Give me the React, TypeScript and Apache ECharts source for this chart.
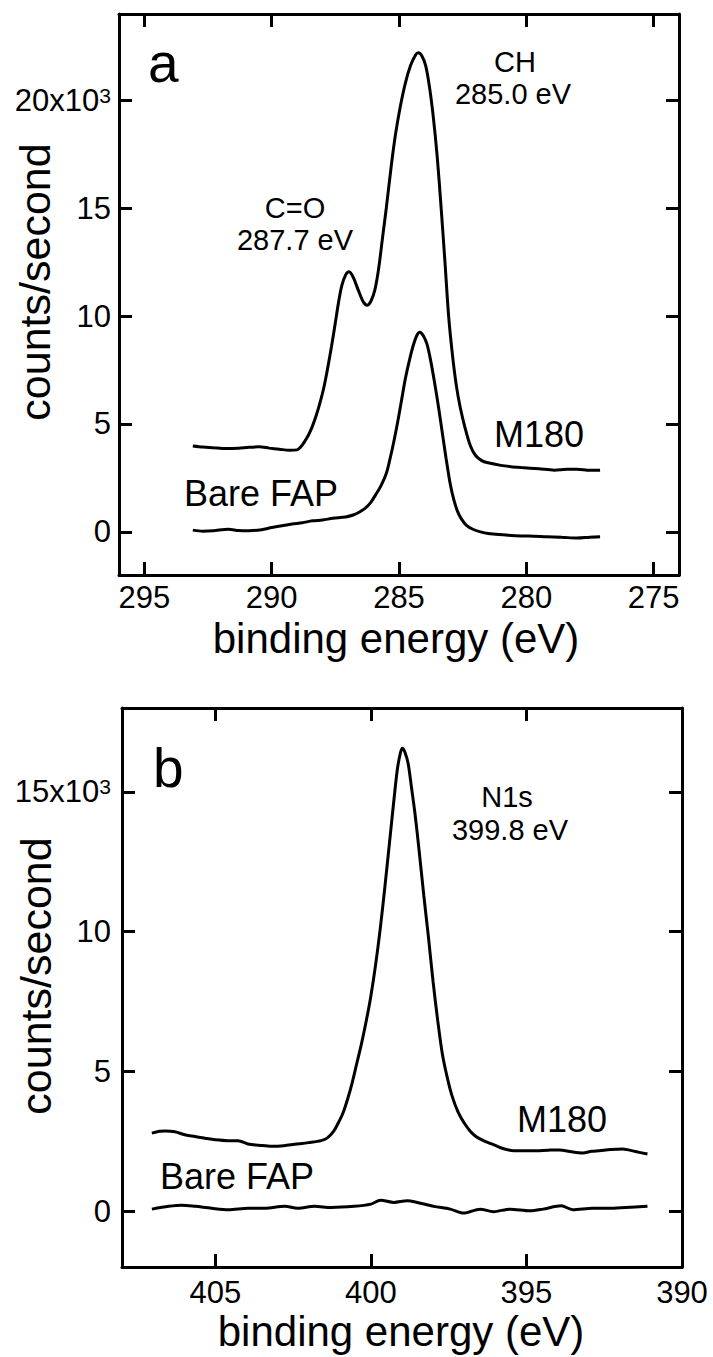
import React, { useEffect, useRef } from "react";
import * as echarts from "echarts";

// ---------- data ----------
// Panel a: C1s region, binding energy (eV) vs counts/second (x10^3)
const aM180: [number, number][] = [
  [293.1, 3.98], [292.7, 3.93], [292.3, 3.9], [291.8, 3.86], [291.3, 3.88], [290.9, 3.92],
  [290.5, 3.94], [290.1, 3.88], [289.7, 3.83], [289.3, 3.78], [289.0, 3.8], [288.85, 3.95],
  [288.7, 4.2], [288.55, 4.5], [288.4, 4.9], [288.25, 5.4], [288.1, 6.0], [287.95, 6.7],
  [287.8, 7.6], [287.65, 8.6], [287.5, 9.7], [287.38, 10.6], [287.25, 11.4], [287.1, 11.9],
  [286.96, 12.05], [286.8, 11.8], [286.6, 11.2], [286.4, 10.65], [286.25, 10.5], [286.1, 10.7],
  [285.95, 11.2], [285.8, 12.2], [285.65, 13.6], [285.5, 15.0], [285.3, 17.0], [285.14, 18.4],
  [284.95, 19.7], [284.75, 20.8], [284.55, 21.6], [284.35, 22.1], [284.24, 22.2], [284.1, 22.05],
  [283.95, 21.6], [283.8, 20.6], [283.65, 19.2], [283.5, 17.4], [283.35, 15.1], [283.2, 12.6],
  [283.05, 10.0], [282.9, 8.2], [282.75, 6.8], [282.6, 5.8], [282.4, 4.8], [282.2, 4.0],
  [282.0, 3.55], [281.75, 3.3], [281.5, 3.2], [281.0, 3.08], [280.6, 3.02], [280.2, 2.98],
  [279.5, 2.92], [278.9, 2.86], [278.4, 2.9], [278.0, 2.9], [277.5, 2.85], [277.1, 2.86],
];
const aBare: [number, number][] = [
  [293.1, 0.08], [292.7, 0.03], [292.3, 0.05], [291.7, 0.12], [291.3, 0.06], [290.9, 0.05],
  [290.4, 0.1], [290.0, 0.2], [289.6, 0.28], [289.2, 0.36], [288.8, 0.42], [288.4, 0.51],
  [288.0, 0.55], [287.6, 0.63], [287.1, 0.69], [286.8, 0.78], [286.55, 0.92], [286.3, 1.12],
  [286.1, 1.38], [285.9, 1.75], [285.7, 2.15], [285.5, 2.7], [285.35, 3.4], [285.2, 4.2],
  [285.05, 5.1], [284.9, 6.1], [284.75, 7.1], [284.6, 7.9], [284.45, 8.6], [284.3, 9.1],
  [284.18, 9.25], [284.05, 9.1], [283.9, 8.7], [283.75, 7.9], [283.6, 6.9], [283.45, 5.8],
  [283.3, 4.6], [283.15, 3.4], [283.0, 2.3], [282.85, 1.5], [282.7, 0.95], [282.55, 0.6],
  [282.35, 0.3], [282.1, 0.12], [281.8, 0.0], [281.5, -0.08], [281.2, -0.11], [280.8, -0.15],
  [280.2, -0.19], [279.7, -0.2], [279.2, -0.23], [278.6, -0.25], [278.0, -0.29], [277.5, -0.25],
  [277.1, -0.23],
];

// Panel b: N1s region
const bM180: [number, number][] = [
  [407.04, 2.79], [406.8, 2.86], [406.6, 2.87], [406.3, 2.84], [405.95, 2.72], [405.65, 2.67],
  [405.3, 2.6], [405.0, 2.55], [404.6, 2.52], [404.27, 2.52], [403.95, 2.4], [403.6, 2.36],
  [403.2, 2.32], [402.8, 2.34], [402.45, 2.39], [402.0, 2.45], [401.6, 2.52], [401.4, 2.62],
  [401.2, 2.85], [401.05, 3.15], [400.9, 3.5], [400.75, 4.0], [400.6, 4.6], [400.45, 5.3],
  [400.3, 6.0], [400.15, 6.8], [400.0, 7.7], [399.85, 8.8], [399.7, 10.1], [399.55, 11.6],
  [399.4, 13.2], [399.27, 14.6], [399.15, 15.8], [399.05, 16.4], [398.99, 16.56], [398.9, 16.4],
  [398.8, 16.0], [398.7, 15.2], [398.58, 14.2], [398.45, 12.9], [398.3, 11.3], [398.15, 9.8],
  [398.0, 8.2], [397.85, 6.8], [397.7, 5.6], [397.55, 4.8], [397.4, 4.15], [397.2, 3.55],
  [397.0, 3.15], [396.8, 2.85], [396.6, 2.65], [396.38, 2.52], [396.0, 2.35], [395.7, 2.22],
  [395.4, 2.16], [394.8, 2.16], [394.3, 2.18], [393.94, 2.19], [393.55, 2.12], [393.19, 2.08],
  [392.9, 2.14], [392.66, 2.16], [392.3, 2.2], [391.91, 2.22], [391.5, 2.13], [391.11, 2.04],
];
const bBare: [number, number][] = [
  [407.04, 0.07], [406.5, 0.17], [406.08, 0.21], [405.65, 0.17], [405.12, 0.1], [404.58, 0.05],
  [403.95, 0.1], [403.41, 0.1], [402.77, 0.17], [402.35, 0.1], [401.81, 0.17], [401.28, 0.13],
  [400.54, 0.17], [400.0, 0.25], [399.69, 0.39], [399.26, 0.31], [398.83, 0.37], [398.51, 0.31],
  [397.98, 0.17], [397.45, 0.07], [397.02, -0.07], [396.49, 0.07], [396.06, -0.02], [395.53, 0.07],
  [394.89, 0.01], [394.47, 0.07], [393.88, 0.19], [393.51, 0.05], [392.87, 0.1], [392.34, 0.1],
  [391.81, 0.13], [391.11, 0.17],
];

// axes ranges & tick values
const aXRange: [number, number] = [274, 296];
const aYRange: [number, number] = [-2, 24];
const bXRange: [number, number] = [390, 408];
const bYRange: [number, number] = [-2, 18];
const aXTicks = [275, 280, 285, 290, 295];
const aYTicks = [0, 5, 10, 15, 20];
const bXTicks = [390, 395, 400, 405];
const bYTicks = [0, 5, 10, 15];
const aTopLabel = 20;
const bTopLabel = 15;

const FAM = '"Liberation Sans", Arial, Helvetica, sans-serif';
const BLACK = "#000";

function xAxis(grid: number, pos: "top" | "bottom", range: [number, number], ticks: number[], show: boolean, margin: number) {
  return {
    type: "value",
    gridIndex: grid,
    position: pos,
    min: range[0],
    max: range[1],
    inverse: true,
    splitNumber: 4,
    axisLine: { show: true, onZero: false, lineStyle: { color: BLACK, width: 3 } },
    axisTick: { show: true, inside: true, length: 13, customValues: ticks, lineStyle: { color: BLACK, width: 3 } },
    axisLabel: {
      show: show,
      customValues: ticks,
      margin: margin,
      fontSize: 31,
      fontFamily: FAM,
      color: BLACK,
      showMinLabel: true,
      showMaxLabel: true,
      formatter: (v: number) => String(v),
    },
    splitLine: { show: false },
  };
}

function yAxis(grid: number, pos: "left" | "right", range: [number, number], ticks: number[], show: boolean, margin: number, topVal: number) {
  return {
    type: "value",
    gridIndex: grid,
    position: pos,
    min: range[0],
    max: range[1],
    splitNumber: 5,
    axisLine: { show: true, onZero: false, lineStyle: { color: BLACK, width: 3 } },
    axisTick: { show: true, inside: true, length: 13, customValues: ticks, lineStyle: { color: BLACK, width: 3 } },
    axisLabel: {
      show: show,
      customValues: ticks,
      margin: margin,
      fontSize: 31,
      fontFamily: FAM,
      color: BLACK,
      formatter: (v: number) => (v === topVal ? "{m|" + v + "x10}{s|3}" : String(v)),
      rich: {
        m: { fontSize: 31, fontFamily: FAM, color: BLACK },
        s: { fontSize: 21, fontFamily: FAM, color: BLACK, verticalAlign: "top" },
      },
    },
    splitLine: { show: false },
  };
}

function lineSeries(name: string, xi: number, yi: number, data: [number, number][]) {
  return {
    name,
    type: "line",
    xAxisIndex: xi,
    yAxisIndex: yi,
    data,
    showSymbol: false,
    symbol: "none",
    smooth: 0.3,
    lineStyle: { color: BLACK, width: 3 },
    z: 3,
  };
}

function txt(x: number, y: number, text: string, size: number, extra: any = {}) {
  return {
    type: "text",
    x,
    y,
    ...extra,
    style: {
      text,
      fontSize: size,
      fontFamily: FAM,
      fill: BLACK,
      align: extra.align || "center",
      verticalAlign: "middle",
    },
  };
}

export default function App() {
  const ref = useRef<HTMLDivElement>(null);
  useEffect(() => {
    if (!ref.current) return;
    const chart = echarts.init(ref.current, null, { renderer: "svg" });
    chart.setOption({
      animation: false,
      backgroundColor: "#fff",
      textStyle: { fontFamily: FAM },
      grid: [
        { left: 119, top: 14, width: 560, height: 561, show: false },
        { left: 122, top: 708, width: 560, height: 559, show: false },
      ],
      xAxis: [
        xAxis(0, "bottom", aXRange, aXTicks, true, 7),
        xAxis(0, "top", aXRange, aXTicks, false, 7),
        xAxis(1, "bottom", bXRange, bXTicks, true, 10),
        xAxis(1, "top", bXRange, bXTicks, false, 10),
      ],
      yAxis: [
        yAxis(0, "left", aYRange, aYTicks, true, 8, aTopLabel),
        yAxis(0, "right", aYRange, aYTicks, false, 8, aTopLabel),
        yAxis(1, "left", bYRange, bYTicks, true, 11, bTopLabel),
        yAxis(1, "right", bYRange, bYTicks, false, 11, bTopLabel),
      ],
      series: [
        lineSeries("M180", 0, 0, aM180),
        lineSeries("Bare FAP", 0, 0, aBare),
        lineSeries("M180 N1s", 2, 2, bM180),
        lineSeries("Bare FAP N1s", 2, 2, bBare),
      ],
      graphic: [
        // panel a
        txt(148, 63, "a", 55, { align: "left" }),
        txt(515, 62, "CH", 29),
        txt(513, 94, "285.0 eV", 29),
        txt(295, 208, "C=O", 29),
        txt(295, 240, "287.7 eV", 29),
        txt(539, 434, "M180", 36),
        txt(261, 493, "Bare FAP", 36),
        txt(396, 638, "binding energy (eV)", 42),
        txt(35, 282, "counts/second", 43, { rotation: Math.PI / 2 }),
        // panel b
        txt(153, 768, "b", 55, { align: "left" }),
        txt(507, 797, "N1s", 29),
        txt(510, 830, "399.8 eV", 29),
        txt(562, 1119, "M180", 36),
        txt(237, 1176, "Bare FAP", 36),
        txt(401, 1331, "binding energy (eV)", 42),
        txt(36, 976, "counts/second", 43, { rotation: Math.PI / 2 }),
      ],
    });
    return () => chart.dispose();
  }, []);
  return (
    <div
      ref={ref}
      style={{ position: "absolute", left: 0, top: 0, width: 713, height: 1357, background: "#fff" }}
    />
  );
}
